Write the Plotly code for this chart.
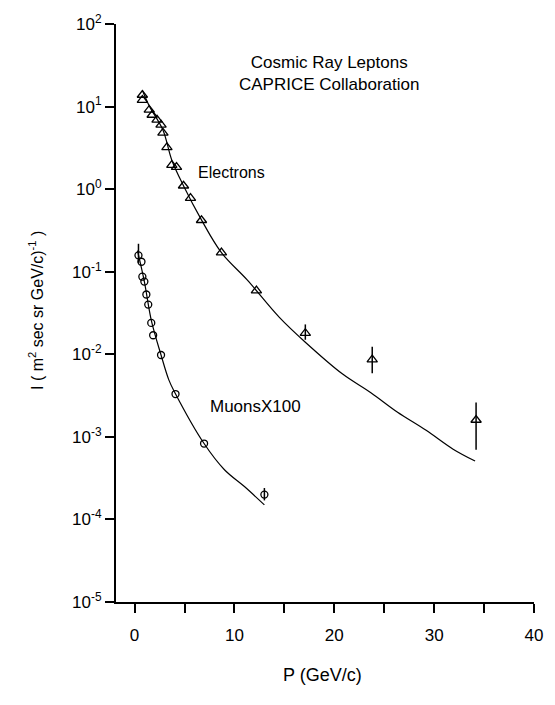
import plotly.graph_objects as go

# ---- data ----
electron_p = [0.78, 0.78, 1.47, 1.76, 2.25, 2.65, 2.84, 3.24, 3.73, 4.2, 4.9, 5.6, 6.7, 8.7, 12.2, 17.1, 23.8, 34.2]
electron_i = [13.8, 12.0, 9.1, 7.9, 6.9, 6.0, 4.8, 3.2, 1.95, 1.85, 1.1, 0.78, 0.42, 0.17, 0.059, 0.018, 0.0086, 0.0016]
electron_err_up = [0, 0, 0, 0, 0, 0, 0, 0, 0, 0, 0, 0, 0, 0, 0, 0.005, 0.0037, 0.0010]
electron_err_dn = [0, 0, 0, 0, 0, 0, 0, 0, 0, 0, 0, 0, 0, 0, 0, 0.003, 0.0027, 0.0009]

electron_fit_p = [0.78, 1.47, 2.84, 3.73, 4.9, 6.67, 8.7, 11.3, 14.5, 17.1, 20.8, 23.7, 26.3, 29.2, 31.9, 34.1]
electron_fit_i = [15.8, 10.2, 5.2, 2.24, 1.1, 0.43, 0.17, 0.079, 0.028, 0.014, 0.0058, 0.0034, 0.0020, 0.0012, 0.00071, 0.00051]

muon_p = [0.39, 0.69, 0.78, 0.98, 1.18, 1.37, 1.67, 1.86, 2.65, 4.1, 6.96, 13.0]
muon_i = [0.158, 0.132, 0.087, 0.076, 0.053, 0.040, 0.024, 0.017, 0.0098, 0.0033, 0.00083, 0.00020]
muon_err_up = [0.06, 0, 0, 0, 0, 0, 0, 0, 0, 0, 0, 0.00004]
muon_err_dn = [0.03, 0, 0, 0, 0, 0, 0, 0, 0, 0, 0, 0.00003]

muon_fit_p = [0.29, 0.98, 1.67, 2.65, 3.43, 4.0, 6.96, 9.0, 11.0, 13.0]
muon_fit_i = [0.18, 0.076, 0.026, 0.0098, 0.0049, 0.0035, 0.00083, 0.00040, 0.00025, 0.00015]

x_tickvals = [0, 5, 10, 15, 20, 25, 30, 35, 40]
x_ticktext = ["0", "", "10", "", "20", "", "30", "", "40"]
y_tickvals = [1e2, 1e1, 1e0, 1e-1, 1e-2, 1e-3, 1e-4, 1e-5]
y_ticktext = ["10<sup>2</sup>", "10<sup>1</sup>", "10<sup>0</sup>", "10<sup>-1</sup>",
              "10<sup>-2</sup>", "10<sup>-3</sup>", "10<sup>-4</sup>", "10<sup>-5</sup>"]

FONT = "Liberation Sans, Arial, sans-serif"

fig = go.Figure()
fig.add_trace(go.Scatter(x=electron_fit_p, y=electron_fit_i, mode="lines",
                         line=dict(color="black", width=1.2), line_shape="spline",
                         hoverinfo="skip", showlegend=False))
fig.add_trace(go.Scatter(x=muon_fit_p, y=muon_fit_i, mode="lines",
                         line=dict(color="black", width=1.2), line_shape="spline",
                         hoverinfo="skip", showlegend=False))
fig.add_trace(go.Scatter(x=electron_p, y=electron_i, mode="markers",
                         marker=dict(symbol="triangle-up-open", size=9, color="black",
                                     line=dict(width=1.3, color="black")),
                         error_y=dict(type="data", array=electron_err_up, arrayminus=electron_err_dn,
                                      color="black", thickness=1.5, width=0),
                         name="Electrons", showlegend=False))
fig.add_trace(go.Scatter(x=muon_p, y=muon_i, mode="markers",
                         marker=dict(symbol="circle-open", size=7, color="black",
                                     line=dict(width=1.3, color="black")),
                         error_y=dict(type="data", array=muon_err_up, arrayminus=muon_err_dn,
                                      color="black", thickness=1.5, width=0),
                         name="Muons", showlegend=False))

fig.update_layout(
    width=555, height=705,
    margin=dict(l=116, r=12, t=24, b=103),
    paper_bgcolor="white", plot_bgcolor="white",
    font=dict(family=FONT, color="black", size=17),
    xaxis=dict(range=[-1.86, 40], tickvals=x_tickvals, ticktext=x_ticktext,
               ticks="outside", ticklen=9, tickwidth=1.5, tickcolor="black",
               ticklabelstandoff=8,
               showline=True, linecolor="black", linewidth=1.5, showgrid=False,
               zeroline=False, tickfont=dict(size=17, family=FONT)),
    yaxis=dict(type="log", range=[-5, 2], tickvals=y_tickvals, ticktext=y_ticktext,
               ticks="outside", ticklen=9, tickwidth=1.5, tickcolor="black",
               showline=True, linecolor="black", linewidth=2, showgrid=False,
               zeroline=False, tickfont=dict(size=17, family=FONT)),
    annotations=[
        dict(text="Cosmic Ray Leptons<br>CAPRICE Collaboration", xref="paper", yref="paper",
             x=(334 - 116) / 427, y=1 - (51 - 24) / 578, showarrow=False,
             font=dict(size=17, family=FONT), align="center"),
        dict(text="Electrons", xref="paper", yref="paper", x=(198 - 116) / 427,
             y=1 - (162 - 24) / 578, xanchor="left", showarrow=False, font=dict(size=16, family=FONT)),
        dict(text="MuonsX100", xref="paper", yref="paper", x=(210 - 116) / 427,
             y=1 - (406 - 24) / 578, xanchor="left", showarrow=False, font=dict(size=17, family=FONT)),
        dict(text="P (GeV/c)", xref="paper", yref="paper", x=(327 - 116) / 427,
             y=1 - (687 - 24) / 578, showarrow=False, font=dict(size=18, family=FONT)),
        dict(text="I ( m<sup>2</sup> sec sr GeV/c)<sup>-1</sup> )", xref="paper", yref="paper",
             x=(22 - 116) / 427, y=1 - (310 - 24) / 578, textangle=-90, showarrow=False,
             font=dict(size=16, family=FONT)),
    ],
)

fig.write_html("out.html", config={"displayModeBar": False},
               post_script="document.body.style.margin='0';document.body.style.overflow='hidden';")
